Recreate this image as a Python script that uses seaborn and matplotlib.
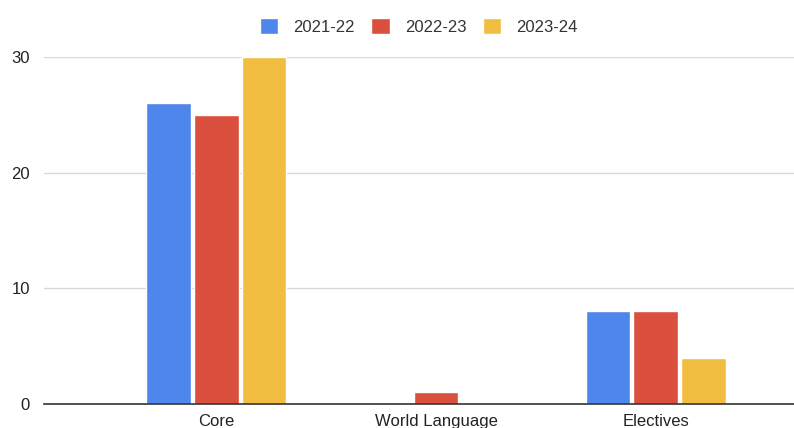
import matplotlib.pyplot as plt
import seaborn as sns
import pandas as pd

categories = ["Core", "World Language", "Electives"]
years = ["2021-22", "2022-23", "2023-24"]
values_2021 = [26, 0, 8]
values_2022 = [25, 1, 8]
values_2023 = [30, 0, 4]
colors = ["#4F86EC", "#DA4F3E", "#F2BE42"]

rows = []
for year, vals in zip(years, [values_2021, values_2022, values_2023]):
    for cat, v in zip(categories, vals):
        rows.append({"Category": cat, "Year": year, "Value": v})
df = pd.DataFrame(rows)

sns.set_style("white")
plt.rcParams["font.family"] = ["Liberation Sans", "DejaVu Sans"]

fig = plt.figure(figsize=(7.94, 4.28), dpi=100)
ax = fig.add_axes([0.055, 0.056, 0.945, 0.811])

sns.barplot(data=df, x="Category", y="Value", hue="Year", palette=colors,
            saturation=1, width=0.65, gap=0.06, ax=ax, legend=True)

ax.set_ylim(0, 30)
ax.set_xlim(-0.786, 2.63)
ax.set_yticks([0, 10, 20, 30])
ax.yaxis.grid(True, color="#D9D9D9", linewidth=1)
ax.set_axisbelow(True)
for s in ["top", "right", "left"]:
    ax.spines[s].set_visible(False)
ax.spines["bottom"].set_color("#333333")
ax.spines["bottom"].set_linewidth(1.2)
ax.tick_params(axis="both", length=0, labelsize=12, colors="#222222")
ax.tick_params(axis="x", pad=7)
ax.tick_params(axis="y", pad=10)
ax.set_xlabel("")
ax.set_ylabel("")

ax.legend(loc="upper center", bbox_to_anchor=(0.5, 1.155), ncol=3, frameon=False,
          fontsize=12, handlelength=1.1, handleheight=1.1, columnspacing=1.0,
          handletextpad=0.9, labelcolor="#333333")

fig.savefig("out.png", dpi=100)
